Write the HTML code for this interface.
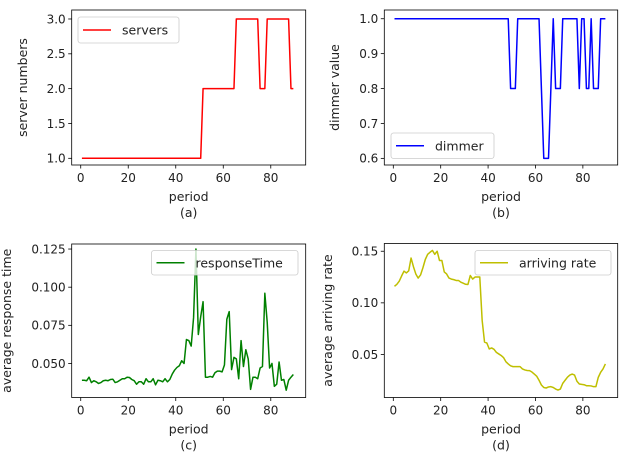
<!DOCTYPE html>
<html><head><meta charset="utf-8">
<style>
body{margin:0;background:#fff;}
svg{display:block;font-family:"DejaVu Sans","Liberation Sans",sans-serif;}
</style></head>
<body>
<svg id="fig" width="629" height="461" viewBox="0 0 629 461" xmlns="http://www.w3.org/2000/svg"></svg>
<script>
const xTicks = [0, 20, 40, 60, 80];
const serversValues = [1,1,1,1,1,1,1,1,1,1,1,1,1,1,1,1,1,1,1,1,1,1,1,1,1,1,1,1,1,1,1,1,1,1,1,1,1,1,1,1,1,1,1,1,1,1,1,1,1,1,1,2,2,2,2,2,2,2,2,2,2,2,2,2,2,3,3,3,3,3,3,3,3,3,3,2,2,2,3,3,3,3,3,3,3,3,3,3,2,2];
const dimmerValues = [1,1,1,1,1,1,1,1,1,1,1,1,1,1,1,1,1,1,1,1,1,1,1,1,1,1,1,1,1,1,1,1,1,1,1,1,1,1,1,1,1,1,1,1,1,1,1,1,1,0.8,0.8,0.8,1,1,1,1,1,1,1,1,1,1,0.8,0.6,0.6,0.6,0.8,1,0.8,0.8,0.8,1,1,1,1,1,1,1,0.8,1,1,0.8,0.8,1,0.8,0.8,0.8,1,1,1];
const responseValues = [0.039,0.039,0.0387,0.041,0.0375,0.0387,0.038,0.0369,0.0375,0.0387,0.039,0.0387,0.0395,0.0397,0.0375,0.038,0.039,0.040,0.040,0.041,0.0408,0.0395,0.0387,0.0364,0.038,0.038,0.0364,0.040,0.038,0.038,0.040,0.036,0.039,0.0387,0.038,0.040,0.038,0.0395,0.043,0.0456,0.0474,0.0485,0.0518,0.050,0.0657,0.065,0.0614,0.080,0.125,0.069,0.0806,0.0905,0.041,0.041,0.0415,0.041,0.0439,0.045,0.045,0.0445,0.049,0.079,0.084,0.046,0.054,0.053,0.040,0.065,0.048,0.059,0.053,0.033,0.041,0.041,0.040,0.047,0.048,0.096,0.077,0.047,0.050,0.035,0.0364,0.051,0.039,0.0395,0.0325,0.039,0.041,0.0428];
const arrivingValues = [0.116,0.118,0.121,0.126,0.1307,0.129,0.131,0.1434,0.135,0.128,0.124,0.127,0.134,0.142,0.147,0.149,0.1508,0.147,0.150,0.141,0.141,0.130,0.128,0.124,0.123,0.1225,0.1217,0.1217,0.120,0.119,0.118,0.1178,0.1265,0.123,0.125,0.125,0.125,0.083,0.062,0.061,0.0553,0.0563,0.055,0.052,0.0505,0.049,0.047,0.043,0.0408,0.039,0.0382,0.0382,0.0382,0.0382,0.036,0.035,0.0345,0.0343,0.033,0.031,0.029,0.025,0.0204,0.018,0.0175,0.0185,0.0188,0.018,0.0165,0.0155,0.0165,0.022,0.025,0.028,0.030,0.031,0.030,0.024,0.0214,0.021,0.0207,0.0197,0.0197,0.0195,0.0188,0.0188,0.0278,0.0327,0.036,0.0408];
const serversTicks = ["1.0","1.5","2.0","2.5","3.0"];
const dimmerTicks = ["0.6","0.7","0.8","0.9","1.0"];
const responseTicks = ["0.050","0.075","0.100","0.125"];
const arrivingTicks = ["0.05","0.10","0.15"];

const NS = "http://www.w3.org/2000/svg";
const fig = document.getElementById('fig');
function mk(tag, attrs, parent){
  const e = document.createElementNS(NS, tag);
  for (const k in attrs) e.setAttribute(k, attrs[k]);
  (parent||fig).appendChild(e);
  return e;
}
function panel(p){
  const g = mk('g', {});
  
  
  const xlim = [-3.8, 94.7];
  const sx = v => p.L + (v - xlim[0]) / (xlim[1] - xlim[0]) * (p.R - p.L);
  const sy = v => p.B - (v - p.ylim[0]) / (p.ylim[1] - p.ylim[0]) * (p.B - p.T);
  let d = '';
  p.values.forEach((v, i) => { d += (i ? 'L' : 'M') + sx(i + 0.5).toFixed(2) + ',' + sy(v).toFixed(2); });
  const ln = mk('path', {d: d, fill: 'none', stroke: p.color, 'stroke-width': 1.5, 'stroke-linejoin': 'round'}, g);
  
  
  const fr = mk('rect', {x: p.L, y: p.T, width: p.R - p.L, height: p.B - p.T, fill: 'none', stroke: '#000', 'stroke-width': 0.8}, g);
  
  
  xTicks.forEach(t => {
    const x = sx(t);
    mk('line', {x1: x, x2: x, y1: p.B, y2: p.B + 3.5, stroke: '#000', 'stroke-width': 0.8}, g);
    const tx = mk('text', {x: x, y: p.B + 17, 'font-size': 12, 'text-anchor': 'middle', fill: '#222'}, g);
    tx.textContent = t;
    
    
  });
  p.yticks.forEach(t => {
    const y = sy(parseFloat(t));
    mk('line', {x1: p.L - 3.5, x2: p.L, y1: y, y2: y, stroke: '#000', 'stroke-width': 0.8}, g);
    const ty = mk('text', {x: p.L - 6, y: y + 4.3, 'font-size': 12, 'text-anchor': 'end', fill: '#222'}, g);
    ty.textContent = t;
    
    
  });
  const cx = (p.L + p.R) / 2;
  const xl = mk('text', {x: cx, y: p.B + 36, 'font-size': 12.5, 'text-anchor': 'middle', fill: '#222'}, g);
  xl.textContent = 'period';
  
  
  const cap = mk('text', {x: cx, y: p.B + 52, 'font-size': 12.5, 'text-anchor': 'middle', fill: '#222'}, g);
  cap.textContent = p.caption;
  
  
  const cy = (p.T + p.B) / 2;
  const yl = mk('text', {x: p.ylx, y: cy, 'font-size': 12.5, 'text-anchor': 'middle', fill: '#222', transform: 'rotate(-90 ' + p.ylx + ' ' + cy + ')'}, g);
  yl.textContent = p.ylabel;
  
  
  const lg = mk('g', {}, g);
  
  
  const lb = p.leg;
  mk('rect', {x: lb[0], y: lb[1], width: lb[2], height: lb[3], rx: 2.5, fill: 'rgba(255,255,255,0.8)', stroke: '#ccc', 'stroke-width': 0.8}, lg);
  const my = lb[1] + lb[3] / 2;
  const ll = mk('line', {x1: lb[0] + 5, x2: lb[0] + 33, y1: my, y2: my, stroke: p.color, 'stroke-width': 1.5}, lg);
  
  
  const lt = mk('text', {x: lb[0] + 44, y: my + 4.5, 'font-size': 12.5, fill: '#222'}, lg);
  lt.textContent = p.label;
  
  
}
panel({name:'servers-chart', L:71.7, R:305.7, T:10, B:165, ylim:[0.904,3.129], values:serversValues, yticks:serversTicks, color:'#ff0000', caption:'(a)', ylabel:'server numbers', ylx:27, leg:[78,17,101,26], label:'servers'});
panel({name:'dimmer-chart', L:384.3, R:617.7, T:10, B:165, ylim:[0.581,1.025], values:dimmerValues, yticks:dimmerTicks, color:'#0000ff', caption:'(b)', ylabel:'dimmer value', ylx:339, leg:[391,133,103,25.5], label:'dimmer'});
panel({name:'response-time-chart', L:71.7, R:305.7, T:244, B:397.5, ylim:[0.0277,0.1283], values:responseValues, yticks:responseTicks, color:'#008000', caption:'(c)', ylabel:'average response time', ylx:11, leg:[151.5,250.5,146.5,24.5], label:'responseTime'});
panel({name:'arriving-rate-chart', L:384.3, R:617.7, T:243.5, B:397.5, ylim:[0.0083,0.1575], values:arrivingValues, yticks:arrivingTicks, color:'#bfbf00', caption:'(d)', ylabel:'average arriving rate', ylx:332, leg:[475,250.5,136,24.5], label:'arriving rate'});
</script>
</body></html>
